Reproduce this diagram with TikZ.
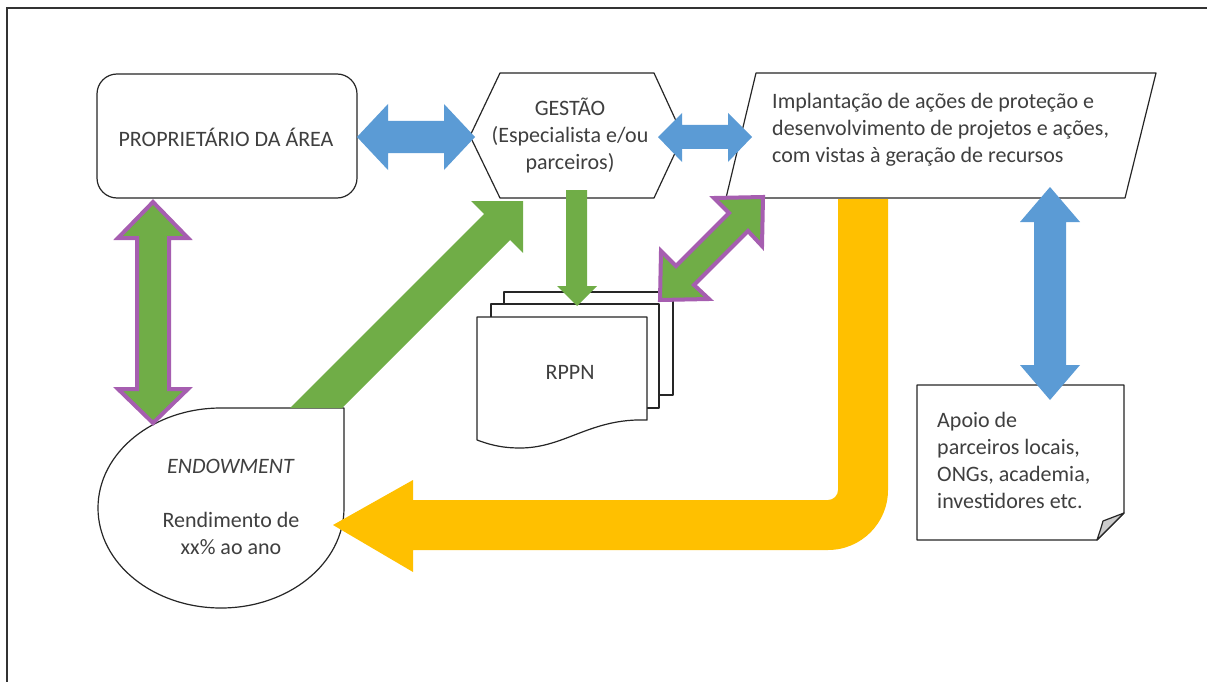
\documentclass[tikz,border=0pt]{standalone}
\usepackage{fontspec}
\setmainfont{Carlito}
\definecolor{flowblue}{HTML}{5B9BD5}
\definecolor{flowgreen}{HTML}{70AD47}
\definecolor{flowyellow}{HTML}{FFC000}
\definecolor{flowpurple}{HTML}{A65EB0}
\definecolor{textgray}{HTML}{3F3F3F}

\begin{document}
\begin{tikzpicture}[x=1pt, y=-1pt,
    outline/.style={draw=black!85, line width=1.2pt, fill=white, line join=round},
    lbl/.style={text=textgray, font=\fontsize{22}{27}\selectfont, inner sep=0pt},
    linkarrow/.style={fill=flowgreen, draw=flowpurple, line width=4pt, line join=miter}]
    \useasboundingbox (0,0) rectangle (1207,682);

    % frame
    \draw[black!80, line width=1.5pt] (7,682) -- (7,8) -- (1207,8);

    % owner box
    \draw[outline, rounded corners=20pt] (97,74) rectangle (357,198);
    \node[lbl] (owner) at (226,137) {PROPRIETÁRIO DA ÁREA};

    % management hexagon
    \draw[outline] (500,73) -- (654,73) -- (683,136) -- (654,198) -- (500,198) -- (470,136) -- cycle;
    \node[lbl, align=center] (gestao) at (570,136) {GESTÃO\\(Especialista e/ou\\parceiros)};

    % actions parallelogram
    \draw[outline] (756,73) -- (1156,73) -- (1125,198) -- (726,198) -- cycle;
    \node[lbl, align=left, anchor=west] (impl) at (772,130) {Implantação de ações de proteção e\\desenvolvimento de projetos e ações,\\com vistas à geração de recursos};

    % endowment drop
    \draw[outline] (344,408) -- (221,408) arc[start angle=270, end angle=0, x radius=123, y radius=100] -- cycle;
    \node[lbl, align=center] (endow) at (231,507) {\textit{ENDOWMENT}\\[27pt]Rendimento de\\xx\% ao ano};

    % RPPN documents
    \draw[outline] (504,292) rectangle (673,395);
    \draw[outline] (491,304) rectangle (659,408);
    \draw[outline] (477,317) -- (647,317) -- (647,420) .. controls (590,418) and (565,448) .. (520,448) .. controls (500,448) and (488,444) .. (477,440) -- cycle;
    \node[lbl] (rppn) at (570,372) {RPPN};

    % partners note
    \draw[outline] (917,385) -- (1124,385) -- (1124,513) -- (1097,540) -- (917,540) -- cycle;
    \draw[outline, fill=gray!40] (1124,513) -- (1103,521) .. controls (1101,528) .. (1097,540) -- cycle;
    \node[lbl, align=left, anchor=west] (apoio) at (937,460) {Apoio de\\parceiros locais,\\ONGs, academia,\\investidores etc.};

    % owner <-> management
    \fill[flowblue] (357,137) -- (388,104) -- (388,121) -- (444,121) -- (444,104) -- (475,137) -- (444,170) -- (444,153) -- (388,153) -- (388,170) -- cycle;

    % management <-> actions
    \fill[flowblue] (658,137) -- (682,113) -- (682,125) -- (728,125) -- (728,113) -- (752,137) -- (728,162) -- (728,149) -- (682,149) -- (682,162) -- cycle;

    % actions <-> partners
    \fill[flowblue] (1050,187) -- (1080,222) -- (1066,222) -- (1066,365) -- (1080,365) -- (1050,400) -- (1020,365) -- (1034,365) -- (1034,222) -- (1020,222) -- cycle;

    % endowment -> management
    \fill[flowgreen] (290,408) -- (484,214) -- (471,201) -- (523,201) -- (523,253) -- (510,240) -- (342,408) -- cycle;

    % management -> RPPN
    \fill[flowgreen] (566,190) -- (587,190) -- (587,286) -- (597,286) -- (577,306) -- (557,286) -- (566,286) -- cycle;

    % RPPN <-> actions
    \draw[linkarrow] (763,197) -- (714,198) -- (729,213) -- (676,266) -- (661,251) -- (660,300) -- (709,299) -- (694,285) -- (748,231) -- (762,246) -- cycle;

    % owner <-> endowment
    \draw[linkarrow] (153,202) -- (188,238) -- (169,238) -- (169,389) -- (188,389) -- (153,423) -- (118,389) -- (137,389) -- (137,238) -- (118,238) -- cycle;

    % actions -> endowment
    \fill[flowyellow] (838,199) -- (838,490) arc[start angle=0, end angle=90, radius=10] -- (413,500) -- (413,480) -- (333,525) -- (413,572) -- (413,550) -- (828,550) arc[start angle=90, end angle=0, radius=60] -- (888,199) -- cycle;
\end{tikzpicture}
\end{document}
